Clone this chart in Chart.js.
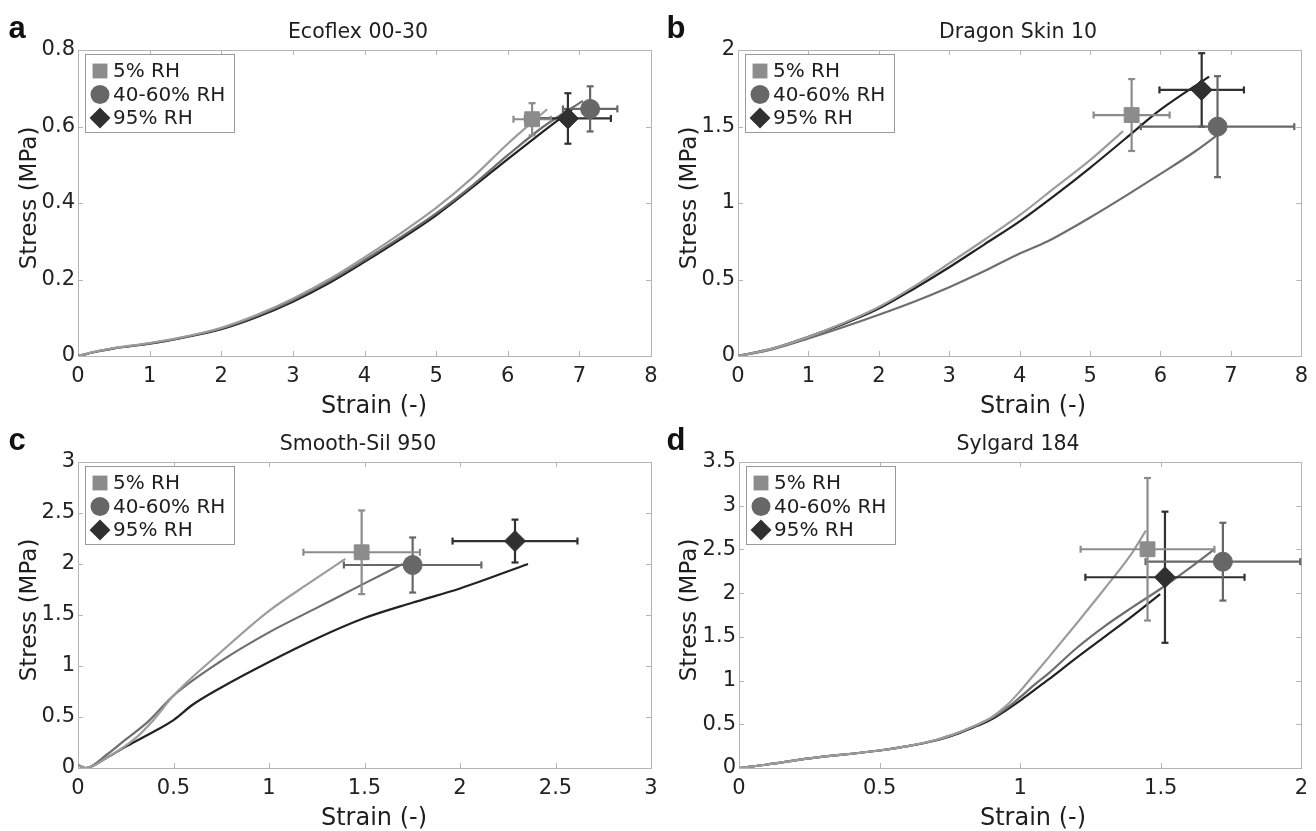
<!DOCTYPE html>
<html><head><meta charset="utf-8">
<script src="https://cdn.jsdelivr.net/npm/chart.js@4.4.1/dist/chart.umd.min.js"></script>
<style>
html,body{margin:0;padding:0;background:#fff;width:1316px;height:831px;overflow:hidden;position:relative;}
canvas{position:absolute;left:0;top:0;}
.t{position:absolute;font-family:"DejaVu Sans",sans-serif;color:#1e1e1e;white-space:nowrap;line-height:1;transform:translate(-50%,-50%);}
.letter{font-family:"Liberation Sans",Arial,sans-serif;font-weight:bold;font-size:31px;color:#111;}
.ptitle{font-size:20.5px;}
.axt{font-size:24px;}
.yt{font-size:23px;transform:translate(-50%,-50%) rotate(-90deg);}
</style></head><body>
<script>
// ---------- text ----------
const seriesLabels = ['5% RH', '40-60% RH', '95% RH'];
const panelTitles = ['Ecoflex 00-30', 'Dragon Skin 10', 'Smooth-Sil 950', 'Sylgard 184'];
const panelLetters = ['a', 'b', 'c', 'd'];
const xAxisTitle = 'Strain (-)';
const yAxisTitle = 'Stress (MPa)';

// ---------- panel a : Ecoflex 00-30 ----------
const aStrain5  = [0, 0.25, 0.5, 1, 1.5, 2, 2.5, 3, 3.5, 4, 4.5, 5, 5.5, 6, 6.55];
const aStress5  = [0, 0.012, 0.021, 0.034, 0.051, 0.074, 0.108, 0.150, 0.200, 0.258, 0.320, 0.387, 0.465, 0.555, 0.645];
const aStrain40 = [0, 0.25, 0.5, 1, 1.5, 2, 2.5, 3, 3.5, 4, 4.5, 5, 5.5, 6, 6.5, 7.05];
const aStress40 = [0, 0.011, 0.020, 0.033, 0.050, 0.072, 0.105, 0.146, 0.195, 0.251, 0.310, 0.373, 0.445, 0.525, 0.600, 0.667];
const aStrain95 = [0, 0.25, 0.5, 1, 1.5, 2, 2.5, 3, 3.5, 4, 4.5, 5, 5.5, 6, 6.5, 6.9];
const aStress95 = [0, 0.011, 0.020, 0.032, 0.049, 0.070, 0.102, 0.142, 0.190, 0.246, 0.305, 0.368, 0.440, 0.515, 0.588, 0.645];
const aMeanStrain = [6.34, 7.15, 6.84];
const aMeanStress = [0.619, 0.646, 0.621];
const aStrainErr  = [0.26, 0.38, 0.60];
const aStressErr  = [0.042, 0.059, 0.066];
const aXTicks = [0, 1, 2, 3, 4, 5, 6, 7, 8];
const aYTicks = [0, 0.2, 0.4, 0.6, 0.8];

// ---------- panel b : Dragon Skin 10 ----------
const bStrain5  = [0, 0.5, 1, 1.5, 2, 2.5, 3, 3.5, 4, 4.5, 5, 5.47];
const bStress5  = [0, 0.05, 0.125, 0.215, 0.32, 0.455, 0.606, 0.76, 0.92, 1.10, 1.28, 1.47];
const bStrain40 = [0, 0.5, 1, 1.5, 2, 2.5, 3, 3.5, 4, 4.4, 4.7, 5, 5.5, 6, 6.5, 6.84];
const bStress40 = [0, 0.045, 0.115, 0.19, 0.27, 0.355, 0.45, 0.555, 0.67, 0.75, 0.825, 0.905, 1.045, 1.19, 1.34, 1.455];
const bStrain95 = [0, 0.5, 1, 1.5, 2, 2.5, 3, 3.5, 4, 4.5, 5, 5.5, 6, 6.69];
const bStress95 = [0, 0.05, 0.126, 0.21, 0.31, 0.44, 0.58, 0.73, 0.88, 1.05, 1.23, 1.42, 1.61, 1.826];
const bMeanStrain = [5.59, 6.81, 6.585];
const bMeanStress = [1.575, 1.499, 1.739];
const bStrainErr  = [0.54, 1.09, 0.60];
const bStressErr  = [0.235, 0.33, 0.24];
const bXTicks = [0, 1, 2, 3, 4, 5, 6, 7, 8];
const bYTicks = [0, 0.5, 1, 1.5, 2];

// ---------- panel c : Smooth-Sil 950 ----------
const cStrain5  = [0, 0.04, 0.15, 0.3, 0.4, 0.5, 0.75, 1.0, 1.2, 1.40];
const cStress5  = [0.03, 0.0, 0.10, 0.29, 0.48, 0.71, 1.14, 1.54, 1.80, 2.05];
const cStrain40 = [0, 0.04, 0.15, 0.25, 0.37, 0.5, 0.75, 1.0, 1.25, 1.5, 1.70];
const cStress40 = [0.03, 0.0, 0.13, 0.28, 0.46, 0.71, 1.05, 1.33, 1.57, 1.81, 2.0];
const cStrain95 = [0, 0.04, 0.15, 0.25, 0.4, 0.5, 0.6, 0.75, 1.0, 1.25, 1.5, 1.75, 2.0, 2.356];
const cStress95 = [0.03, 0.0, 0.10, 0.21, 0.36, 0.47, 0.62, 0.79, 1.04, 1.27, 1.47, 1.62, 1.76, 2.0];
const cMeanStrain = [1.485, 1.752, 2.288];
const cMeanStress = [2.115, 1.99, 2.225];
const cStrainErr  = [0.305, 0.36, 0.327];
const cStressErr  = [0.41, 0.27, 0.21];
const cXTicks = [0, 0.5, 1, 1.5, 2, 2.5, 3];
const cYTicks = [0, 0.5, 1, 1.5, 2, 2.5, 3];

// ---------- panel d : Sylgard 184 ----------
const dStrain5  = [0, 0.1, 0.25, 0.5, 0.6, 0.7, 0.75, 0.8, 0.85, 0.9, 0.95, 1.0, 1.05, 1.1, 1.2, 1.3, 1.4, 1.447];
const dStress5  = [0, 0.04, 0.11, 0.20, 0.25, 0.32, 0.37, 0.43, 0.50, 0.585, 0.71, 0.88, 1.07, 1.26, 1.65, 2.05, 2.47, 2.715];
const dStrain40 = [0, 0.1, 0.25, 0.5, 0.6, 0.7, 0.75, 0.8, 0.85, 0.9, 0.95, 1.0, 1.05, 1.1, 1.2, 1.3, 1.4, 1.5, 1.6, 1.69];
const dStress40 = [0, 0.04, 0.11, 0.20, 0.25, 0.32, 0.37, 0.43, 0.495, 0.575, 0.68, 0.81, 0.95, 1.08, 1.37, 1.62, 1.84, 2.05, 2.28, 2.50];
const dStrain95 = [0, 0.1, 0.25, 0.5, 0.6, 0.7, 0.75, 0.8, 0.85, 0.9, 0.95, 1.0, 1.05, 1.1, 1.2, 1.3, 1.4, 1.498];
const dStress95 = [0, 0.04, 0.11, 0.20, 0.25, 0.315, 0.36, 0.42, 0.485, 0.56, 0.66, 0.77, 0.89, 1.01, 1.26, 1.50, 1.74, 1.99];
const dMeanStrain = [1.453, 1.721, 1.515];
const dMeanStress = [2.502, 2.36, 2.182];
const dStrainErr  = [0.238, 0.275, 0.283];
const dStressErr  = [0.815, 0.445, 0.75];
const dXTicks = [0, 0.5, 1, 1.5, 2];
const dYTicks = [0, 0.5, 1, 1.5, 2, 2.5, 3, 3.5];

// ---------- styles / layout (kept apart from data) ----------
const lineColors   = ['#9c9c9c', '#6e6e6e', '#222222'];
const markerColors = ['#8c8c8c', '#676767', '#303030'];
const markerStyles = ['rect', 'circle', 'rectRot'];
const markerRadii  = [10.5, 9.5, 10.5];
const FONT = '"DejaVu Sans", sans-serif';
const W = 1316, H = 831, YAXW = 78, XAXH = 64;
const areas = [
  {L: 78,  T: 50,  R: 651,  B: 356},
  {L: 738, T: 50,  R: 1309, B: 356},
  {L: 78,  T: 462, R: 651,  B: 768},
  {L: 739, T: 462, R: 1307, B: 768}
];
const textPos = [
  {letter: [17, 27],  title: [358, 31],   xt: [374, 405],  yt: [28, 198]},
  {letter: [676, 27], title: [1018, 31],  xt: [1033, 405], yt: [688, 198]},
  {letter: [17, 439], title: [358, 443],  xt: [374, 817],  yt: [28, 610]},
  {letter: [676, 439],title: [1018, 443], xt: [1033, 817], yt: [688, 610]}
];

const panels = [
  {curves: [[aStrain5, aStress5], [aStrain40, aStress40], [aStrain95, aStress95]],
   mean: [aMeanStrain, aMeanStress, aStrainErr, aStressErr], xt: aXTicks, yt: aYTicks},
  {curves: [[bStrain5, bStress5], [bStrain40, bStress40], [bStrain95, bStress95]],
   mean: [bMeanStrain, bMeanStress, bStrainErr, bStressErr], xt: bXTicks, yt: bYTicks},
  {curves: [[cStrain5, cStress5], [cStrain40, cStress40], [cStrain95, cStress95]],
   mean: [cMeanStrain, cMeanStress, cStrainErr, cStressErr], xt: cXTicks, yt: cYTicks},
  {curves: [[dStrain5, dStress5], [dStrain40, dStress40], [dStrain95, dStress95]],
   mean: [dMeanStrain, dMeanStress, dStrainErr, dStressErr], xt: dXTicks, yt: dYTicks}
];

function addText(txt, cls, pos) {
  const d = document.createElement('div');
  d.className = 't ' + cls;
  d.textContent = txt;
  d.style.left = pos[0] + 'px';
  d.style.top = pos[1] + 'px';
  document.body.appendChild(d);
}

// box with inward ticks on all four sides
const boxPlugin = {
  id: 'box',
  beforeDatasetsDraw(chart) {
    const {ctx, chartArea: a, scales: {x, y}} = chart;
    ctx.save();
    ctx.strokeStyle = '#b4b4b4';
    ctx.lineWidth = 1;
    ctx.strokeRect(Math.round(a.left) + 0.5, Math.round(a.top) + 0.5, Math.round(a.right - a.left), Math.round(a.bottom - a.top));
    ctx.beginPath();
    const tl = 5;
    x.ticks.forEach(t => {
      const px = Math.round(x.getPixelForValue(t.value)) + 0.5;
      ctx.moveTo(px, a.bottom); ctx.lineTo(px, a.bottom - tl);
      ctx.moveTo(px, a.top); ctx.lineTo(px, a.top + tl);
    });
    y.ticks.forEach(t => {
      const py = Math.round(y.getPixelForValue(t.value)) + 0.5;
      ctx.moveTo(a.left, py); ctx.lineTo(a.left + tl, py);
      ctx.moveTo(a.right, py); ctx.lineTo(a.right - tl, py);
    });
    ctx.stroke();
    ctx.restore();
  }
};

function drawMarker(ctx, style, cx, cy, r, color) {
  ctx.fillStyle = color;
  ctx.beginPath();
  if (style === 'rect') {
    const s = r * Math.SQRT1_2;
    ctx.rect(cx - s, cy - s, 2 * s, 2 * s);
  } else if (style === 'circle') {
    ctx.arc(cx, cy, r, 0, Math.PI * 2);
  } else {
    ctx.moveTo(cx - r, cy); ctx.lineTo(cx, cy - r); ctx.lineTo(cx + r, cy); ctx.lineTo(cx, cy + r); ctx.closePath();
  }
  ctx.fill();
}

const legendPlugin = {
  id: 'inlegend',
  afterDatasetsDraw(chart) {
    const {ctx, chartArea: a} = chart;
    const x0 = a.left + 7, y0 = a.top + 4, w = 149, h = 78;
    ctx.save();
    ctx.fillStyle = '#fff';
    ctx.fillRect(x0, y0, w, h);
    ctx.strokeStyle = '#9a9a9a';
    ctx.lineWidth = 1;
    ctx.strokeRect(Math.round(x0) + 0.5, Math.round(y0) + 0.5, w, h);
    ctx.font = '20px ' + FONT;
    ctx.textBaseline = 'middle';
    seriesLabels.forEach((lab, k) => {
      const cy = y0 + 17 + k * 23.5;
      drawMarker(ctx, markerStyles[k], x0 + 15, cy, markerRadii[k], markerColors[k]);
      ctx.fillStyle = '#1e1e1e';
      ctx.fillText(lab, x0 + 28, cy + 1);
    });
    ctx.restore();
  }
};

panels.forEach((p, i) => {
  const a = areas[i];
  const canvas = document.createElement('canvas');
  canvas.width = W; canvas.height = H;
  canvas.style.width = W + 'px'; canvas.style.height = H + 'px';
  document.body.appendChild(canvas);

  const datasets = [];
  p.curves.forEach((c, k) => {
    datasets.push({
      label: seriesLabels[k] + ' curve',
      data: c[0].map((v, j) => ({x: v, y: c[1][j]})),
      showLine: true, borderColor: lineColors[k], borderWidth: 2.2,
      pointRadius: 0, cubicInterpolationMode: 'monotone', order: 3
    });
  });
  const [mx, my, ex, ey] = p.mean;
  [0, 1, 2].forEach(k => {
    const col = markerColors[k];
    datasets.push({
      label: seriesLabels[k] + ' strain error',
      data: [{x: mx[k] - ex[k], y: my[k]}, {x: mx[k] + ex[k], y: my[k]}],
      showLine: true, borderColor: col, borderWidth: 2.2,
      pointStyle: 'line', pointRadius: 3.5, pointRotation: 90,
      pointBorderColor: col, pointBorderWidth: 2.2, order: 2, clip: false
    });
    datasets.push({
      label: seriesLabels[k] + ' stress error',
      data: [{x: mx[k], y: my[k] - ey[k]}, {x: mx[k], y: my[k] + ey[k]}],
      showLine: true, borderColor: col, borderWidth: 2.2,
      pointStyle: 'line', pointRadius: 3.5, pointRotation: 0,
      pointBorderColor: col, pointBorderWidth: 2.2, order: 2, clip: false
    });
  });
  [0, 1, 2].forEach(k => {
    datasets.push({
      label: seriesLabels[k],
      data: [{x: mx[k], y: my[k]}],
      pointStyle: markerStyles[k], pointRadius: markerRadii[k],
      backgroundColor: markerColors[k], borderColor: markerColors[k], borderWidth: 1,
      order: 1, clip: false
    });
  });

  const tickFont = {family: FONT, size: 21};
  new Chart(canvas, {
    type: 'scatter',
    data: {datasets},
    options: {
      responsive: false, animation: false, devicePixelRatio: 1,
      layout: {padding: {left: a.L - YAXW, top: a.T, right: W - a.R, bottom: H - a.B - XAXH}},
      plugins: {legend: {display: false}, tooltip: {enabled: false}, title: {display: false}},
      scales: {
        x: {
          type: 'linear', min: p.xt[0], max: p.xt[p.xt.length - 1],
          afterBuildTicks: s => { s.ticks = p.xt.map(v => ({value: v})); },
          afterFit: s => { s.height = XAXH; },
          grid: {display: false, drawTicks: false}, border: {display: false},
          ticks: {font: tickFont, color: '#222', padding: 8, maxRotation: 0, autoSkip: false,
                  callback: v => String(v)}
        },
        y: {
          type: 'linear', min: p.yt[0], max: p.yt[p.yt.length - 1],
          afterBuildTicks: s => { s.ticks = p.yt.map(v => ({value: v})); },
          afterFit: s => { s.width = YAXW; },
          grid: {display: false, drawTicks: false}, border: {display: false},
          ticks: {font: tickFont, color: '#222', padding: 3, autoSkip: false,
                  callback: v => String(v)}
        }
      }
    },
    plugins: [boxPlugin, legendPlugin]
  });

  const tp = textPos[i];
  addText(panelLetters[i], 'letter', tp.letter);
  addText(panelTitles[i], 'ptitle', tp.title);
  addText(xAxisTitle, 'axt', tp.xt);
  addText(yAxisTitle, 'axt yt', tp.yt);
});
</script>
</body></html>
